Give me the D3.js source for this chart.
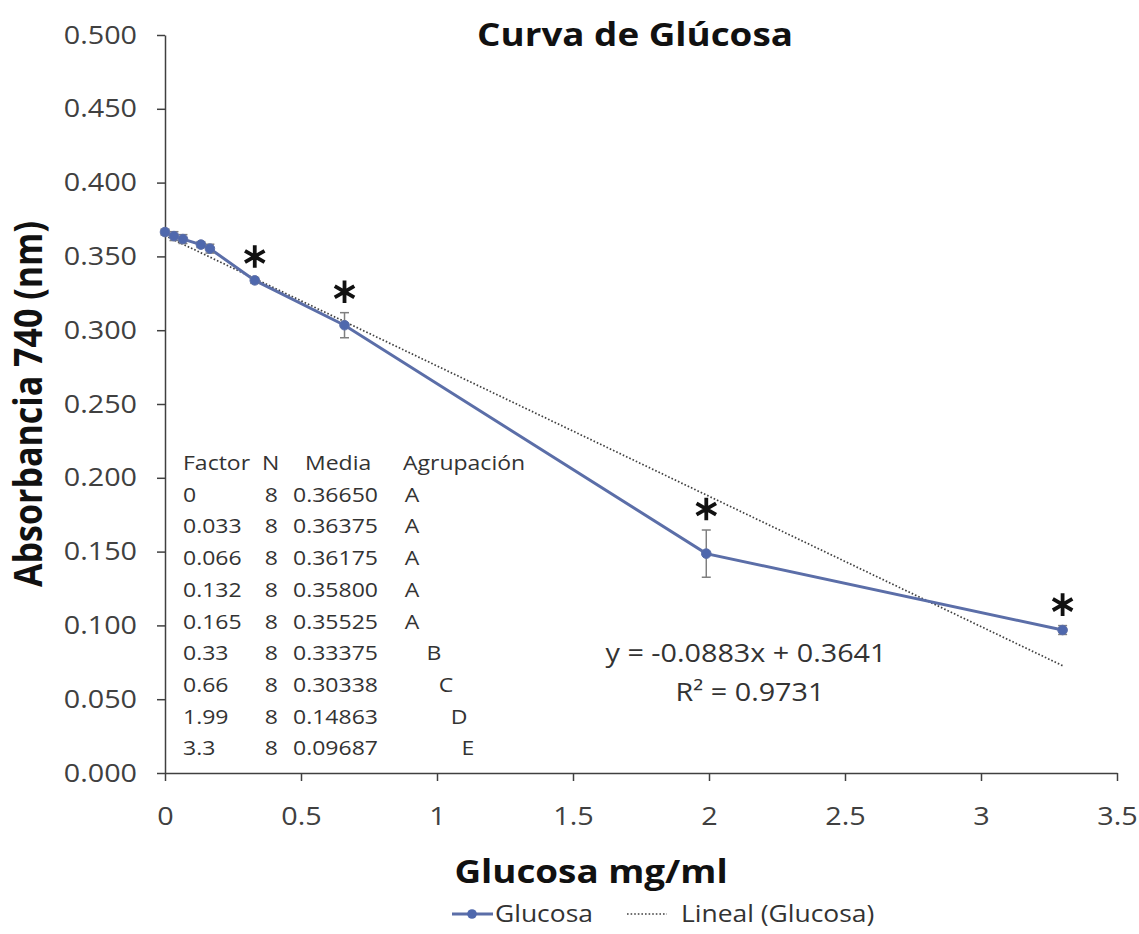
<!DOCTYPE html>
<html>
<head>
<meta charset="utf-8">
<script src="https://cdn.jsdelivr.net/npm/d3@7"></script>
<style>
  body { margin: 0; background: #fff; }
  text { font-family: "Open Sans", sans-serif; }
</style>
</head>
<body>
<div id="chart"></div>
<script>
// data
var factors = [0, 0.033, 0.066, 0.132, 0.165, 0.33, 0.66, 1.99, 3.3];
var factorLabels = ["0", "0.033", "0.066", "0.132", "0.165", "0.33", "0.66", "1.99", "3.3"];
var nValues = [8, 8, 8, 8, 8, 8, 8, 8, 8];
var means = [0.36650, 0.36375, 0.36175, 0.35800, 0.35525, 0.33375, 0.30338, 0.14863, 0.09687];
var meanLabels = ["0.36650", "0.36375", "0.36175", "0.35800", "0.35525", "0.33375", "0.30338", "0.14863", "0.09687"];
var errors = [0.002, 0.003, 0.003, 0.002, 0.003, 0.002, 0.0085, 0.016, 0.003];
var groups = ["A", "A", "A", "A", "A", "B", "C", "D", "E"];
var groupCols = [0, 0, 0, 0, 0, 1, 2, 3, 4];
var starred = [false, false, false, false, false, true, true, true, true];
var yTicks = [0, 0.05, 0.1, 0.15, 0.2, 0.25, 0.3, 0.35, 0.4, 0.45, 0.5];
var xTicks = [0, 0.5, 1, 1.5, 2, 2.5, 3, 3.5];
var slope = -0.0883, intercept = 0.3641, r2 = 0.9731;

var W = 1139, H = 934;
var margin = {top: 35, right: 22, bottom: 161, left: 165};
var seriesColor = "#5b6ea8";
var axisColor = "#404040";
var SX = 1.15; // the picture's lettering is a bit wide, stretch it sideways

var svg = d3.select("#chart").append("svg")
    .attr("width", W)
    .attr("height", H);

function label(parent, px, py, str, size) {
    return parent.append("text")
        .attr("transform", "translate(" + px + "," + py + ") scale(" + SX + ",1)")
        .style("font-size", size + "px")
        .text(str);
}

var x = d3.scaleLinear().domain([0, 3.5]).range([margin.left, W - margin.right]);
var y = d3.scaleLinear().domain([0, 0.5]).range([H - margin.bottom, margin.top]);

// axes
var yAxis = svg.append("g")
    .attr("transform", "translate(" + margin.left + ",0)")
    .call(d3.axisLeft(y).tickValues(yTicks).tickSize(8).tickSizeOuter(0).tickPadding(20)
        .tickFormat(d3.format(".3f")));
var xAxis = svg.append("g")
    .attr("transform", "translate(0," + (H - margin.bottom) + ")")
    .call(d3.axisBottom(x).tickValues(xTicks).tickSize(8).tickSizeOuter(0).tickPadding(26)
        .tickFormat(function (d) { return String(d); }));

[yAxis, xAxis].forEach(function (a) {
    a.selectAll("path, line").attr("stroke", axisColor).attr("stroke-width", 1.5);
    a.selectAll("text").attr("fill", axisColor).style("font-size", "25px")
        .each(function () {
            var t = d3.select(this);
            t.attr("x", (+t.attr("x") || 0) / SX).attr("transform", "scale(" + SX + ",1)");
        });
});

// table of means
var table = svg.append("g").attr("class", "g_table").attr("fill", "#333");
var rowY = function (i) { return 470 + i * 31.7; };
label(table, 183, rowY(0), "Factor", 20);
label(table, 262, rowY(0), "N", 20);
label(table, 305, rowY(0), "Media", 20);
label(table, 403, rowY(0), "Agrupación", 20);

factors.forEach(function (f, i) {
    label(table, 183, rowY(i + 1), factorLabels[i], 20);
    label(table, 278, rowY(i + 1), nValues[i], 20).attr("text-anchor", "end");
    label(table, 293, rowY(i + 1), meanLabels[i], 20);
    label(table, [412, 434, 446, 459, 468][groupCols[i]], rowY(i + 1), groups[i], 20)
        .attr("text-anchor", "middle");
});

// trend line
svg.append("line")
    .attr("x1", x(0)).attr("y1", y(intercept))
    .attr("x2", x(3.3)).attr("y2", y(intercept + slope * 3.3))
    .attr("stroke", "#404040").attr("stroke-width", 1.7)
    .attr("stroke-dasharray", "1.6,2");

// series line
var pts = factors.map(function (f, i) { return [f, means[i]]; });
svg.append("path")
    .datum(pts)
    .attr("fill", "none")
    .attr("stroke", seriesColor)
    .attr("stroke-width", 3)
    .attr("d", d3.line().x(function (d) { return x(d[0]); }).y(function (d) { return y(d[1]); }));

// error bars
var eb = svg.selectAll(".eb").data(pts).enter().append("g").attr("class", "eb")
    .attr("stroke", "#7f7f7f").attr("stroke-width", 1.5);
eb.append("line")
    .attr("x1", function (d) { return x(d[0]); }).attr("x2", function (d) { return x(d[0]); })
    .attr("y1", function (d, i) { return y(d[1] + errors[i]); })
    .attr("y2", function (d, i) { return y(d[1] - errors[i]); });
[1, -1].forEach(function (s) {
    eb.append("line")
        .attr("x1", function (d) { return x(d[0]) - 4.5; }).attr("x2", function (d) { return x(d[0]) + 4.5; })
        .attr("y1", function (d, i) { return y(d[1] + s * errors[i]); })
        .attr("y2", function (d, i) { return y(d[1] + s * errors[i]); });
});

// markers
svg.selectAll(".pt").data(pts).enter().append("circle")
    .attr("cx", function (d) { return x(d[0]); })
    .attr("cy", function (d) { return y(d[1]); })
    .attr("r", 4.8)
    .attr("fill", "#4f68ad")
    .attr("stroke", seriesColor);

// significance stars
svg.selectAll(".star").data(pts.filter(function (d, i) { return starred[i]; })).enter()
    .append("path")
    .attr("d", d3.symbol().type(d3.symbolAsterisk).size(360))
    .attr("transform", function (d) {
        var i = factors.indexOf(d[0]);
        return "translate(" + x(d[0]) + "," + (y(d[1] + errors[i]) - 21) + ")";
    })
    .attr("stroke", "#111").attr("stroke-width", 3.8).attr("fill", "none");

// equation
label(svg, 746, 662, "y = " + slope + "x + " + intercept, 25).attr("text-anchor", "middle").attr("fill", "#333");
label(svg, 750, 701, "R² = " + r2, 25).attr("text-anchor", "middle").attr("fill", "#333");

// titles
label(svg, 635, 46, "Curva de Glúcosa", 32).attr("text-anchor", "middle")
    .style("font-weight", "bold").attr("fill", "#111");
label(svg, 591, 883, "Glucosa mg/ml", 32).attr("text-anchor", "middle")
    .style("font-weight", "bold").attr("fill", "#111");
svg.append("text")
    .attr("transform", "translate(42,404) scale(" + SX + ",1) rotate(-90)")
    .attr("text-anchor", "middle")
    .style("font-size", "34px").style("font-weight", "bold").attr("fill", "#111")
    .text("Absorbancia 740 (nm)");

// legend
var lg = svg.append("g").attr("transform", "translate(0,914)");
lg.append("line").attr("x1", 452).attr("x2", 493).attr("stroke", seriesColor).attr("stroke-width", 3);
lg.append("circle").attr("cx", 472).attr("r", 4.8).attr("fill", "#4f68ad");
label(lg, 495, 0, "Glucosa", 23).attr("dy", "0.36em").attr("fill", "#333");
lg.append("line").attr("x1", 627).attr("x2", 667).attr("stroke", "#404040").attr("stroke-width", 1.7)
    .attr("stroke-dasharray", "1.6,2");
label(lg, 681, 0, "Lineal (Glucosa)", 23).attr("dy", "0.36em").attr("fill", "#333");
</script>
</body>
</html>
